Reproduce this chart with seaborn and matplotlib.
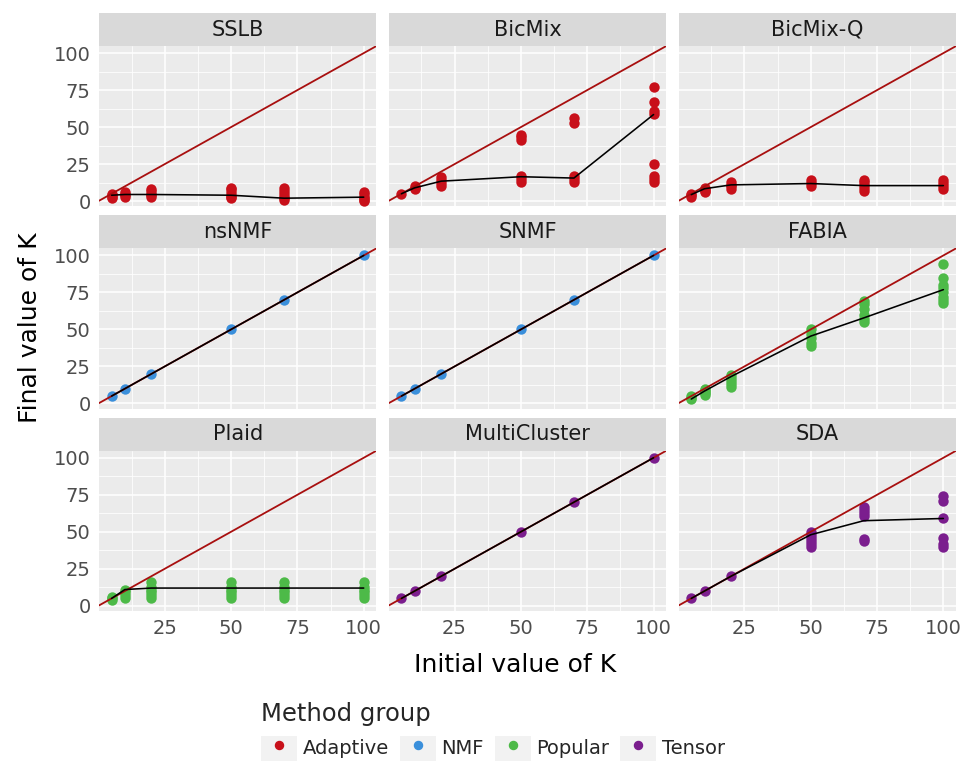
import matplotlib
matplotlib.use("Agg")
import matplotlib.pyplot as plt
from matplotlib.patches import Rectangle, Patch
from matplotlib.lines import Line2D
from matplotlib.legend_handler import HandlerTuple
import pandas as pd
import seaborn as sns

# initial K used in every run
init_k = [5, 10, 20, 50, 70, 100]

methods = ["SSLB", "BicMix", "BicMix-Q", "nsNMF", "SNMF", "FABIA",
           "Plaid", "MultiCluster", "SDA"]
method_group = ["Adaptive", "Adaptive", "Adaptive", "NMF", "NMF", "Popular",
                "Popular", "Tensor", "Tensor"]
groups = ["Adaptive", "NMF", "Popular", "Tensor"]
group_colors = ["#C8101A", "#3A8FDB", "#4DBA48", "#7B1E8E"]

# final K per run, one list per initial K
sslb_final = [[2, 3, 4, 5], [3, 4, 5, 6], [3, 4, 5, 7, 8], [2, 3, 4, 6, 8, 9],
              [1, 2, 3, 5, 7, 9], [0, 1, 2, 3, 5, 6]]
bicmix_final = [[5], [8, 9, 10], [10, 12, 14, 16], [13, 15, 17, 41, 43, 45],
                [13, 15, 17, 53, 56], [13, 15, 17, 25, 59, 61, 67, 77]]
bicmixq_final = [[3, 4, 5], [6, 7, 8, 9], [8, 10, 11, 13], [10, 12, 14],
                 [7, 9, 11, 13, 14], [8, 10, 12, 14]]
nsnmf_final = [[5], [10], [20], [50], [70], [100]]
snmf_final = [[5], [10], [20], [50], [70], [100]]
fabia_final = [[3, 4, 5], [6, 7, 8, 9, 10], [11, 13, 15, 17, 19],
               [39, 41, 44, 47, 50], [55, 57, 60, 64, 67, 69],
               [68, 70, 72, 75, 78, 80, 85, 94]]
plaid_final = [[4, 5, 6], [5, 7, 9, 11], [5, 7, 9, 11, 13, 16],
               [5, 7, 9, 11, 13, 16], [5, 7, 9, 11, 13, 16], [5, 7, 9, 11, 13, 16]]
multicluster_final = [[5], [10], [20], [50], [70], [100]]
sda_final = [[5], [10], [20], [40, 42, 44, 46, 48, 50], [44, 45, 61, 63, 65, 67],
             [40, 42, 46, 59, 71, 74]]

# summary line per method
sslb_line = [4, 4.5, 4.5, 4, 2, 2.7]
bicmix_line = [5, 9, 13.5, 16.5, 15.6, 58.5]
bicmixq_line = [4.4, 8.4, 11, 11.9, 10.5, 10.5]
nsnmf_line = [5, 10, 20, 50, 70, 100]
snmf_line = [5, 10, 20, 50, 70, 100]
fabia_line = [3, 8.4, 18.2, 45.5, 57.8, 76.9]
plaid_line = [5, 11, 12, 12, 12, 12]
multicluster_line = [5, 10, 20, 50, 70, 100]
sda_line = [5, 10, 20, 48, 57.5, 59]

finals = [sslb_final, bicmix_final, bicmixq_final, nsnmf_final, snmf_final,
          fabia_final, plaid_final, multicluster_final, sda_final]
lines = [sslb_line, bicmix_line, bicmixq_line, nsnmf_line, snmf_line,
         fabia_line, plaid_line, multicluster_line, sda_line]

pts = []
summ = []
for m, grp, fin, ln in zip(methods, method_group, finals, lines):
    for k, vals, lv in zip(init_k, fin, ln):
        for v in vals:
            pts.append({"method": m, "group": grp, "init_k": k, "final_k": v})
        summ.append({"method": m, "init_k": k, "final_k": lv})
df = pd.DataFrame(pts)
line_df = pd.DataFrame(summ)

sns.set_style("darkgrid", {"axes.facecolor": "#EBEBEB", "grid.color": "white"})
plt.rcParams["font.family"] = ["DejaVu Sans"]

W, H = 965, 769
g = sns.FacetGrid(df, col="method", col_wrap=3, col_order=methods,
                  hue="group", hue_order=groups, palette=group_colors,
                  sharex=True, sharey=True, despine=False)
g.map(sns.scatterplot, "init_k", "final_k", s=56, linewidth=0, zorder=2)
fig = g.figure
fig.set_size_inches(W / 100, H / 100)
ax_h = (611 - 46 - 2 * 42) / 3
ax_w = (956 - 99 - 2 * 12.5) / 3
fig.subplots_adjust(left=99 / W, right=956 / W, top=1 - 46 / H, bottom=1 - 611 / H,
                    wspace=12.5 / ax_w, hspace=42 / ax_h)

for i, (m, ax) in enumerate(zip(methods, g.axes.flat)):
    ax.axline((0, 0), slope=1, color="#A80F0F", lw=1.3, zorder=3)
    sns.lineplot(data=line_df[line_df.method == m], x="init_k", y="final_k",
                 color="black", lw=1.15, ax=ax, zorder=4, legend=False)
    leg = ax.get_legend()
    if leg is not None:
        leg.remove()
    ax.set_xlim(0.25, 104.75)
    ax.set_ylim(-3.5, 104.8)
    ax.set_xticks([25, 50, 75, 100])
    ax.set_yticks([0, 25, 50, 75, 100])
    ax.set_xticks([12.5, 37.5, 62.5, 87.5], minor=True)
    ax.set_yticks([12.5, 37.5, 62.5, 87.5], minor=True)
    ax.grid(which="major", color="white", lw=1.1)
    ax.grid(which="minor", color="white", lw=0.55)
    for s in ax.spines.values():
        s.set_visible(False)
    ax.set_xlabel("")
    ax.set_ylabel("")
    ax.set_title("")
    ax.tick_params(which="minor", length=0)
    row, col = divmod(i, 3)
    ax.tick_params(axis="both", which="major", labelsize=14, labelcolor="#4D4D4D",
                   color="#333333", width=1.1, length=4, pad=2)
    if row < 2:
        ax.tick_params(axis="x", length=0, labelbottom=False)
    if col > 0:
        ax.tick_params(axis="y", length=0, labelleft=False)
    sh = 33 / ax_h
    ax.add_patch(Rectangle((0, 1), 1, sh, transform=ax.transAxes,
                           facecolor="#D9D9D9", edgecolor="none", clip_on=False))
    ax.text(0.5, 1 + sh / 2, m, transform=ax.transAxes, ha="center", va="center",
            fontsize=15, color="#1A1A1A")

fig.text(515 / W, 1 - 665 / H, "Initial value of K", ha="center", va="center",
         fontsize=18, color="black")
fig.text(30 / W, 1 - 328 / H, "Final value of K", ha="center", va="center",
         rotation=90, fontsize=18, color="black")

handles = [(Patch(facecolor="#F2F2F2", edgecolor="none"),
            Line2D([], [], marker="o", ls="", color=c, markersize=5.8))
           for c in group_colors]
fig.legend(handles, groups, handler_map={tuple: HandlerTuple(ndivide=1)},
           loc="upper left", bbox_to_anchor=(257 / W, 1 - 698 / H), ncol=4,
           frameon=False, title="Method group", title_fontsize=17.5, fontsize=14,
           alignment="left", handlelength=1.85, handleheight=1.6,
           handletextpad=0.3, columnspacing=0.55, borderpad=0.2, borderaxespad=0)

fig.savefig("out.png", dpi=100)
